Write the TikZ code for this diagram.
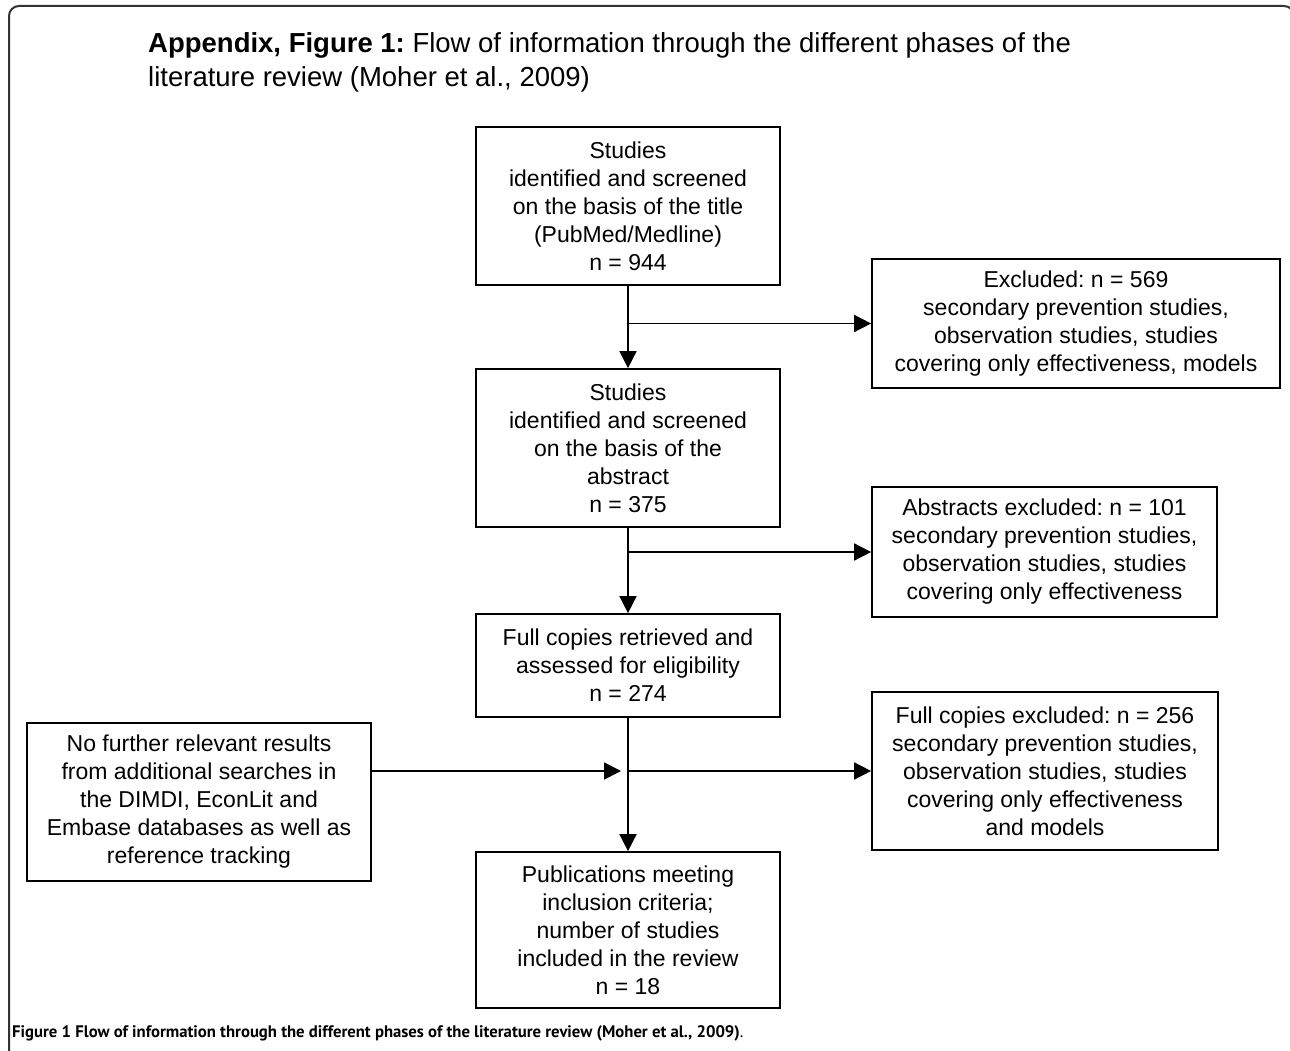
\documentclass[tikz,border=0pt]{standalone}
\usepackage{fontspec}
\setmainfont{Liberation Sans}
\newfontfamily\capfont{PT Sans}
\usetikzlibrary{arrows.meta,calc}
\frenchspacing
\tikzset{
  box/.style={draw=black, line width=1.7pt, align=center, inner sep=0pt,
    font=\fontsize{23}{28}\selectfont},
  arr/.style={line width=1.6pt, -{Triangle[length=17pt,width=17pt]}},
  frame/.style={draw=black!80, line width=2pt, rounded corners=10pt},
  titletext/.style={anchor=base west, inner sep=0pt, font=\fontsize{27.5}{34}\selectfont},
  captext/.style={anchor=base west, inner sep=0pt, font=\capfont\fontsize{16.7}{19}\selectfont}
}
\begin{document}
\begin{tikzpicture}[x=1pt,y=-1pt]
\useasboundingbox (0,0) rectangle (1290,1051);
\begin{scope}
\clip (0,0) rectangle (1290,1051);
\draw[frame] (9,1070) -- (9,6) -- (1294,6) -- (1294,1070);
\end{scope}

\node[titletext] (t1) at (148,52.7) {\textbf{Appendix, Figure 1:} Flow of information through the different phases of the};
\node[titletext] (t2) at (148,86.7) {literature review (Moher et al., 2009)};

\node[box, minimum width=304pt, minimum height=158pt] (b1) at (628,206)
  {Studies\\identified and screened\\on the basis of the title\\(PubMed/Medline)\\n = 944};
\node[box, minimum width=304pt, minimum height=158pt] (b2) at (628,448)
  {Studies\\identified and screened\\on the basis of the\\abstract\\n = 375};
\node[box, minimum width=304pt, minimum height=103pt] (b3) at (628,665.5)
  {Full copies retrieved and\\assessed for eligibility\\n = 274};
\node[box, minimum width=304pt, minimum height=156pt] (b5) at (628,930)
  {Publications meeting\\inclusion criteria;\\number of studies\\included in the review\\n = 18};

\node[box, minimum width=408pt, minimum height=129pt] (e1) at (1076,323.5)
  {Excluded: n = 569\\secondary prevention studies,\\observation studies, studies\\covering only effectiveness, models};
\node[box, minimum width=345pt, minimum height=130pt] (e2) at (1044.5,552)
  {Abstracts excluded: n = 101\\secondary prevention studies,\\observation studies, studies\\covering only effectiveness};
\node[box, minimum width=346pt, minimum height=158pt] (e3) at (1045,771)
  {Full copies excluded: n = 256\\secondary prevention studies,\\observation studies, studies\\covering only effectiveness\\and models};
\node[box, minimum width=344pt, minimum height=158pt] (lb) at (199,802)
  {No further relevant results\\from additional searches in\\the DIMDI, EconLit and\\Embase databases as well as\\reference tracking};

\coordinate (j1) at (b1.south |- e1.west);
\coordinate (j2) at (b2.south |- e2.west);
\coordinate (j3) at (b3.south |- e3.west);

\draw[arr] (b1) -- (b2);
\draw[arr] (j1) -- (e1.west);
\draw[arr] (b2) -- (b3);
\draw[arr] (j2) -- (e2.west);
\draw[arr] (b3) -- (b5);
\draw[arr] (j3) -- (e3.west);
\draw[arr, shorten >=7pt] (lb.east |- j3) -- (j3);

\node[captext] (cap) at (12,1037) {\textbf{Figure 1 Flow of information through the different phases of the literature review (Moher et al., 2009)}.};
\end{tikzpicture}
\end{document}
